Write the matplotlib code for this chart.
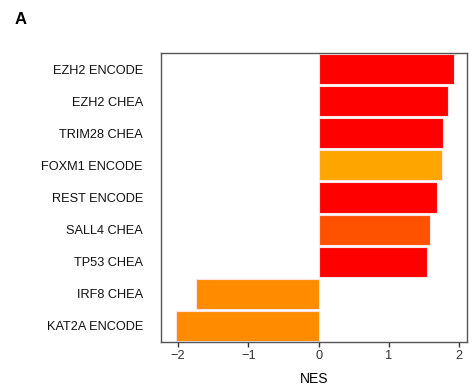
import matplotlib.pyplot as plt

# Data
terms = ["EZH2 ENCODE", "EZH2 CHEA", "TRIM28 CHEA", "FOXM1 ENCODE", "REST ENCODE",
         "SALL4 CHEA", "TP53 CHEA", "IRF8 CHEA", "KAT2A ENCODE"]
nes = [1.92, 1.84, 1.77, 1.76, 1.68, 1.59, 1.54, -1.74, -2.03]
colors = ["#FF0000", "#FF0000", "#FF0000", "#FFA500", "#FF0000",
          "#FF5200", "#FF0000", "#FF8C00", "#FF8C00"]

plt.rcParams['font.family'] = ['Liberation Sans', 'DejaVu Sans']

fig = plt.figure(figsize=(4.72, 3.9), dpi=100)
ax = fig.add_axes([161 / 472, 1 - 342 / 390, 306 / 472, 289 / 390])

ypos = list(range(len(terms)))
ax.barh(ypos, nes, height=0.94, color=colors, edgecolor="#FBE3E3", linewidth=0.8)

ax.set_yticks(ypos)
ax.set_yticklabels(terms, fontsize=9.2, color="#111111")
ax.set_ylim(len(terms) - 0.5, -0.5)
ax.set_xlim(-2.24, 2.11)
ax.set_xticks([-2, -1, 0, 1, 2])
ax.set_xticklabels(["\u22122", "\u22121", "0", "1", "2"], fontsize=9.2, color="#333333")
ax.tick_params(axis='y', length=0, pad=13)
ax.tick_params(axis='x', length=3.5, width=1, color="#333333", pad=2.5)

for side in ax.spines.values():
    side.set_color("#555555")
    side.set_linewidth(1)

ax.set_xlabel("NES", fontsize=10, labelpad=7)

fig.text(15 / 472, 1 - 20 / 390, "A", fontsize=12, fontweight="bold", va="center")

plt.savefig("out.png", dpi=100)
